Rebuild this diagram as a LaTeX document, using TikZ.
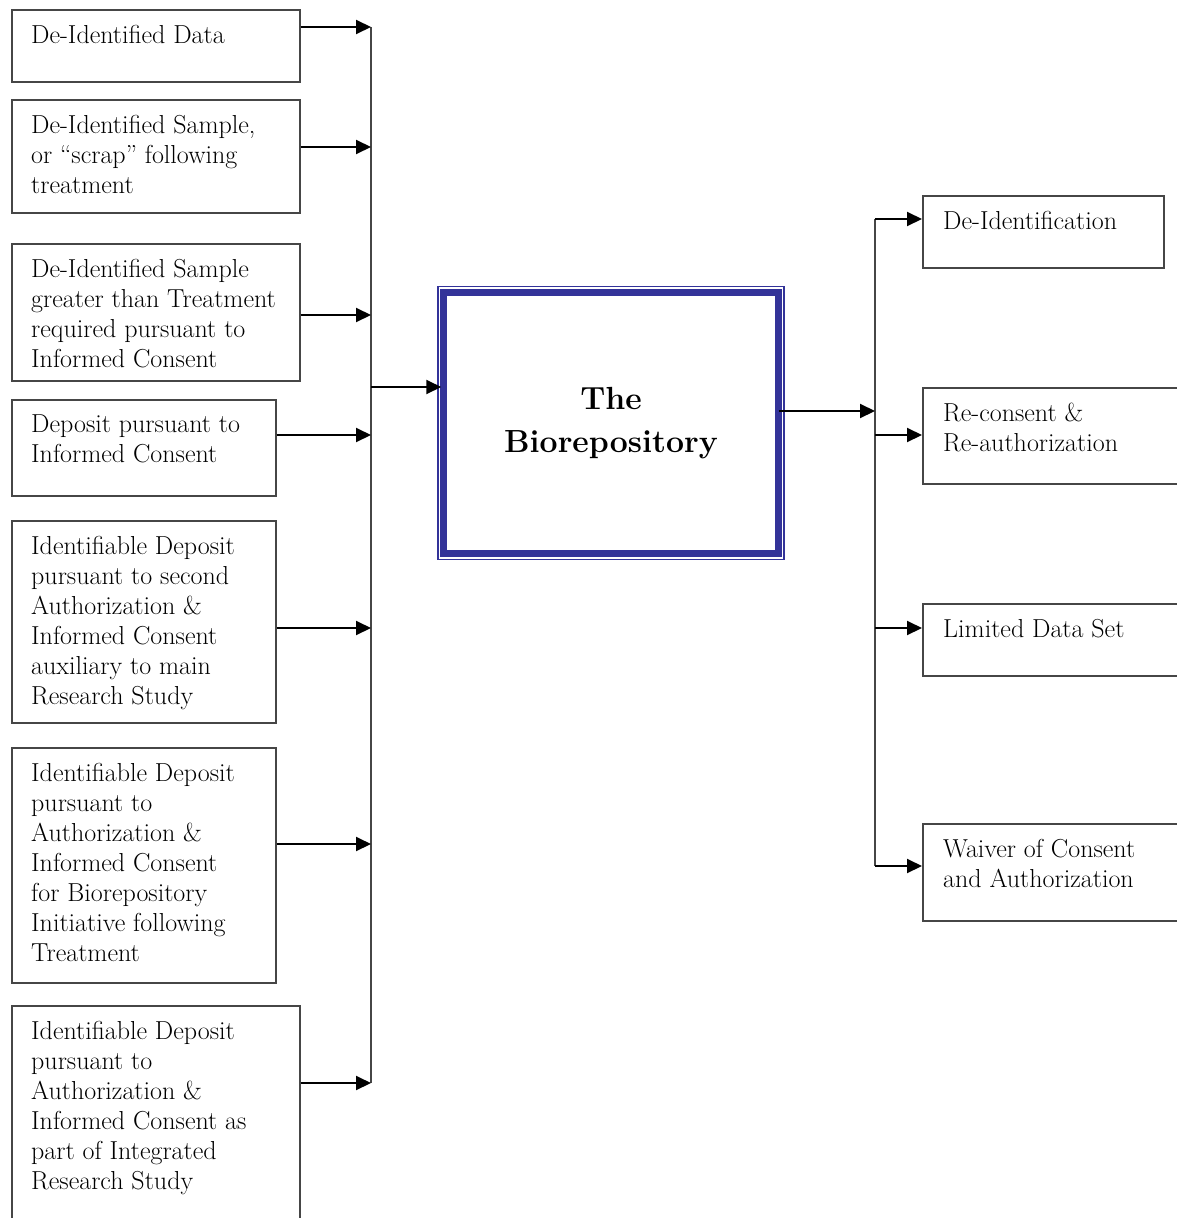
\documentclass[tikz,border=0pt]{standalone}
\usepackage{fontspec}
\usetikzlibrary{arrows.meta}
\definecolor{bioblue}{RGB}{51,51,153}
\definecolor{linegray}{RGB}{70,70,70}
\tikzset{
	box/.style={draw=linegray, line width=1.5pt, anchor=north west, inner sep=0pt},
	txt/.style={anchor=north west, inner sep=0pt, align=left, font=\fontsize{26}{30}\selectfont},
	feed/.style={-{Triangle[length=15pt,width=14pt]}, line width=2pt},
	spine/.style={draw=linegray, line width=1.5pt},
}
\begin{document}
\begin{tikzpicture}[x=1pt,y=1pt]
	\useasboundingbox (0,0) rectangle (1177,-1218);
	\clip (0,0) rectangle (1177,-1218);
	\node[box, minimum width=288, minimum height=72]  (d1) at (11,-9)    {};
	\node[box, minimum width=288, minimum height=113] (d2) at (11,-99)   {};
	\node[box, minimum width=288, minimum height=137] (d3) at (11,-243)  {};
	\node[box, minimum width=264, minimum height=96]  (d4) at (11,-399)  {};
	\node[box, minimum width=264, minimum height=202] (d5) at (11,-520)  {};
	\node[box, minimum width=264, minimum height=235] (d6) at (11,-747)  {};
	\node[box, minimum width=288, minimum height=240] (d7) at (11,-1005) {};
	\node[txt] (d1t) at ([shift={(20,-16)}]d1.north west) {De-Identified Data};
	\node[txt] (d2t) at ([shift={(20,-16)}]d2.north west) {De-Identified Sample,\\or ``scrap'' following\\treatment};
	\node[txt] (d3t) at ([shift={(20,-16)}]d3.north west) {De-Identified Sample\\greater than Treatment\\required pursuant to\\Informed Consent};
	\node[txt] (d4t) at ([shift={(20,-16)}]d4.north west) {Deposit pursuant to\\Informed Consent};
	\node[txt] (d5t) at ([shift={(20,-16)}]d5.north west) {Identifiable Deposit\\pursuant to second\\Authorization \&\\Informed Consent\\auxiliary to main\\Research Study};
	\node[txt] (d6t) at ([shift={(20,-16)}]d6.north west) {Identifiable Deposit\\pursuant to\\Authorization \&\\Informed Consent\\for Biorepository\\Initiative following\\Treatment};
	\node[txt] (d7t) at ([shift={(20,-16)}]d7.north west) {Identifiable Deposit\\pursuant to\\Authorization \&\\Informed Consent as\\part of Integrated\\Research Study};

	\node[draw=bioblue, line width=1.5pt, minimum width=346, minimum height=273, inner sep=0pt,
		align=center, font=\fontsize{32}{43}\selectfont\bfseries] (bio) at (611,-422.75) {The\\Biorepository};
	\draw[bioblue, line width=7pt] ([shift={(6.5,-6.5)}]bio.north west) rectangle ([shift={(-6.5,6.5)}]bio.south east);

	\node[box, minimum width=241, minimum height=72] (r1) at (922,-195) {};
	\node[box, minimum width=280, minimum height=96] (r2) at (922,-387) {};
	\node[box, minimum width=280, minimum height=72] (r3) at (922,-603) {};
	\node[box, minimum width=280, minimum height=97] (r4) at (922,-823) {};
	\node[txt] (r1t) at ([shift={(21,-16)}]r1.north west) {De-Identification};
	\node[txt] (r2t) at ([shift={(21,-16)}]r2.north west) {Re-consent \&\\Re-authorization};
	\node[txt] (r3t) at ([shift={(21,-16)}]r3.north west) {Limited Data Set};
	\node[txt] (r4t) at ([shift={(21,-16)}]r4.north west) {Waiver of Consent\\and Authorization};

	\coordinate (ltop) at (371,-27);
	\coordinate (lbot) at (371,-1083);
	\coordinate (rtop) at (875,-219);
	\coordinate (rbot) at (875,-866);
	\draw[spine] (ltop) -- (lbot);
	\draw[spine] (rtop) -- (rbot);
	\foreach \b/\y in {d1/-27,d2/-147,d3/-315,d4/-435,d5/-628,d6/-844,d7/-1083}{%
		\draw[feed] (\b.east |- 0,\y) -- (ltop |- 0,\y);
		}
	\draw[feed] (ltop |- 0,-387) -- ([xshift=4]bio.west |- 0,-387);
	\draw[feed] ([xshift=-6]bio.east |- 0,-411) -- (rtop |- 0,-411);
	\foreach \b/\y in {r1/-219,r2/-435,r3/-628,r4/-866}{%
		\draw[feed] (rtop |- 0,\y) -- (\b.west |- 0,\y);
		}
\end{tikzpicture}
\end{document}
